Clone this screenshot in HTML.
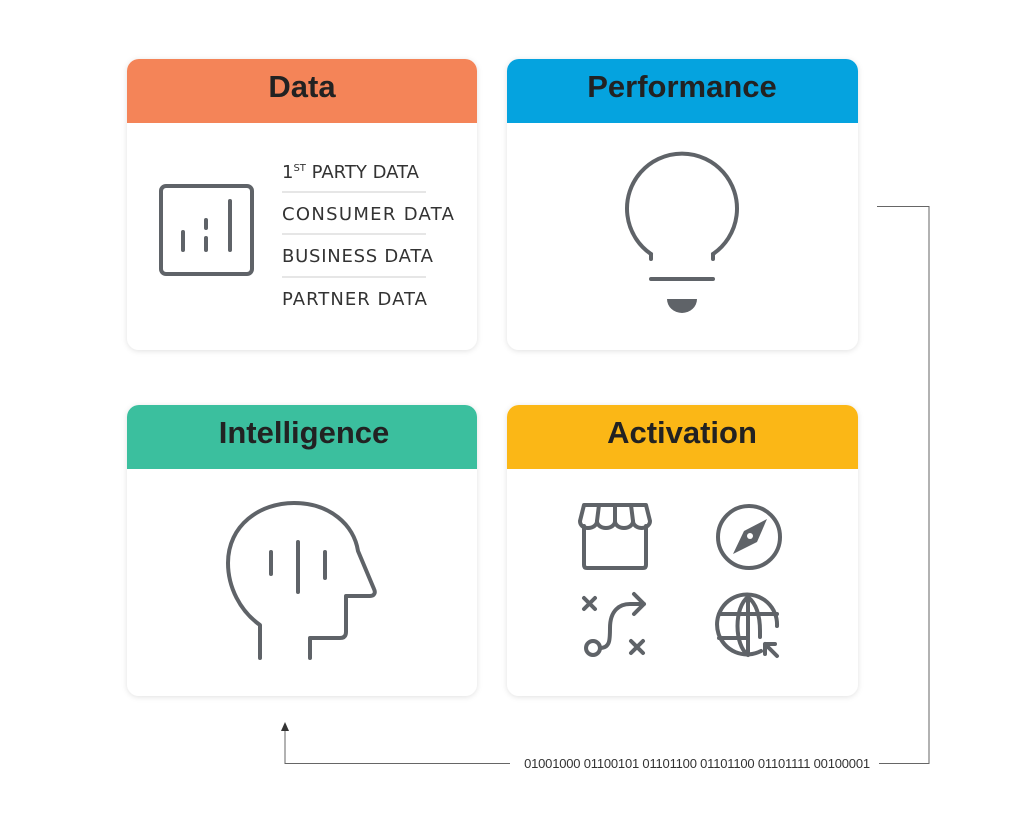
<!DOCTYPE html>
<html><head><style>
body{margin:0;background:#fff;width:1024px;height:817px;overflow:hidden}
svg{display:block}
.h{font-family:"Liberation Sans",sans-serif;font-weight:bold;font-size:31px;fill:#222;text-anchor:middle}
.t{font-family:"DejaVu Sans","Liberation Sans",sans-serif;font-size:18px;fill:#333}
.i{fill:none;stroke:#5f6368;stroke-width:4;stroke-linecap:round;stroke-linejoin:round}
</style></head><body>
<svg width="1024" height="817" viewBox="0 0 1024 817">
<defs>
<filter id="s" x="-10%" y="-10%" width="120%" height="120%"><feDropShadow dx="0" dy="1" stdDeviation="3" flood-color="#000" flood-opacity="0.12"/></filter>
<clipPath id="c1"><rect x="127" y="59" width="350" height="291" rx="12"/></clipPath>
<clipPath id="c2"><rect x="507" y="59" width="351" height="291" rx="12"/></clipPath>
<clipPath id="c3"><rect x="127" y="405" width="350" height="291" rx="12"/></clipPath>
<clipPath id="c4"><rect x="507" y="405" width="351" height="291" rx="12"/></clipPath>
</defs>
<g filter="url(#s)">
<rect x="127" y="59" width="350" height="291" rx="12" fill="#fff"/>
<rect x="507" y="59" width="351" height="291" rx="12" fill="#fff"/>
<rect x="127" y="405" width="350" height="291" rx="12" fill="#fff"/>
<rect x="507" y="405" width="351" height="291" rx="12" fill="#fff"/>
</g>
<rect x="127" y="59" width="350" height="64" fill="#f48458" clip-path="url(#c1)"/>
<rect x="507" y="59" width="351" height="64" fill="#05a3df" clip-path="url(#c2)"/>
<rect x="127" y="405" width="350" height="64" fill="#3bbf9e" clip-path="url(#c3)"/>
<rect x="507" y="405" width="351" height="64" fill="#fbb716" clip-path="url(#c4)"/>
<text class="h" x="302" y="97">Data</text>
<text class="h" x="682" y="97">Performance</text>
<text class="h" x="304" y="443">Intelligence</text>
<text class="h" x="682" y="443">Activation</text>

<!-- Data -->
<rect class="i" x="161" y="186" width="91" height="88" rx="5"/>
<path class="i" d="M183 232v18M206 220v8M206 238v12M230 201v49" stroke-linecap="butt"/>
<text class="t" x="282" y="178">1<tspan font-size="10" dy="-7">ST</tspan><tspan dy="7"> PARTY DATA</tspan></text>
<text class="t" x="282" y="220" textLength="172">CONSUMER DATA</text>
<text class="t" x="282" y="262" textLength="151">BUSINESS DATA</text>
<text class="t" x="282" y="305" textLength="145">PARTNER DATA</text>
<path d="M282 192h144M282 234h144M282 277h144" stroke="#ccc" stroke-width="1"/>

<!-- bulb -->
<path class="i" d="M651 254A55 55 0 1 1 713 254" stroke-linecap="butt"/>
<path class="i" d="M651 254v5M713 254v5M651 279h62" stroke-linecap="butt"/>
<path d="M667 299h30a15 14 0 0 1-30 0z" fill="#5f6368"/>

<!-- head -->
<path class="i" d="M260 658v-33c-20-14-32-38-32-62c0-38 32-60 66-60c36 0 60 22 64 48l16 38c2 4 0 7-4 7h-24v36c0 4-2 6-6 6h-30v20" stroke-linecap="butt"/>
<path class="i" d="M271 552v22M298 542v50M325 552v26" stroke-linecap="butt"/>

<!-- activation icons -->
<g class="i" stroke-width="3">
<path d="M584 526v39c0 2 1 3 3 3h56c2 0 3-1 3-3v-39"/>
<path d="M584 505h62l4 16c0 4-4 7-8 7c-5 0-9-3-9-7c0 4-4 7-9 7s-9-3-9-7c0 4-4 7-9 7s-9-3-9-7c0 4-4 7-9 7s-8-3-8-7z"/>
<path d="M599 505l-2 16M615 505v16M631 505l2 16"/>
<circle cx="749" cy="537" r="31"/>
<path d="M584 598l11 11M595 598l-11 11M631 641l12 12M643 641l-12 12"/>
<circle cx="593" cy="648" r="7"/>
<path d="M600 648c10 0 10-8 10-20c0-18 10-24 20-24h14M634 594l10 10l-10 10"/>
<path d="M761 651A30 30 0 1 1 777 626"/>
<path d="M748 597c-14 10-14 48 0 58M748 597v58M748 597c10 8 12 22 12 34v6M719 614h58M719 638h28M777 656l-12-12M765 644v10M765 644h10"/>
</g>
<path d="M767 519l-10 23l-24 12l11-23z" fill="#5f6368"/>
<circle cx="750" cy="536" r="3" fill="#fff"/>

<!-- connector -->
<path d="M877 206.5h52v557h-50M510 763.5h-225v-36" fill="none" stroke="#666" stroke-width="1"/>
<path d="M285 722l-4 9h8z" fill="#333"/>
<text x="697" y="768" font-family="Liberation Sans Narrow,Liberation Sans,sans-serif" font-size="13" fill="#333" text-anchor="middle" letter-spacing="-0.2">01001000 01100101 01101100 01101100 01101111 00100001</text>
</svg>
</body></html>
